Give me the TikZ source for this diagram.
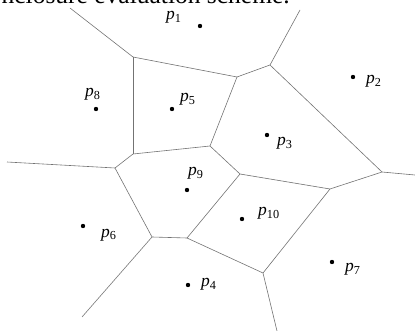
\documentclass[tikz,border=0pt]{standalone}
\usepackage{fontspec}
\setmainfont{Liberation Serif}
\usetikzlibrary{positioning}

\tikzset{
  cell/.style={draw=black!55, line width=0.6pt},
  site/.style={circle, fill=black, inner sep=0pt, minimum size=4.4pt},
  sitelabel/.style={anchor=base west, inner sep=0pt, font=\fontsize{17.5}{17.5}\selectfont}
}

\newcommand{\pl}[1]{\textit{p}\textsubscript{#1}}

\begin{document}
\begin{tikzpicture}[x=1pt, y=-1pt]
    \useasboundingbox (0,0) rectangle (415,331);

    % caption line, cut by the page edge
    \node[anchor=base east, inner sep=0pt, font=\fontsize{25.5}{25.5}\selectfont] (cap) at (290,3.5) {nclosure evaluation scheme.};

    % Voronoi vertices
    \coordinate (V1) at (133,57);
    \coordinate (V2) at (237,77);
    \coordinate (V3) at (270,65);
    \coordinate (V4) at (133,154);
    \coordinate (V5) at (210,146);
    \coordinate (V6) at (115,168);
    \coordinate (V7) at (240,174);
    \coordinate (V8) at (330,189);
    \coordinate (V9) at (382,172);
    \coordinate (V10) at (152,237);
    \coordinate (V11) at (187,238);
    \coordinate (V12) at (263,273);

    % open ends
    \coordinate (E1) at (70,8);
    \coordinate (E2) at (300,10);
    \coordinate (E3) at (7,162);
    \coordinate (E4) at (415,175);
    \coordinate (E5) at (82,317);
    \coordinate (E6) at (277,331);

    \draw[cell] (E1) -- (V1);
    \draw[cell] (V1) -- (V2);
    \draw[cell] (V2) -- (V3);
    \draw[cell] (V3) -- (E2);
    \draw[cell] (V3) -- (V9);
    \draw[cell] (V1) -- (V4);
    \draw[cell] (V2) -- (V5);
    \draw[cell] (V4) -- (V5);
    \draw[cell] (V4) -- (V6);
    \draw[cell] (V6) -- (E3);
    \draw[cell] (V5) -- (V7);
    \draw[cell] (V7) -- (V8);
    \draw[cell] (V8) -- (V9);
    \draw[cell] (V9) -- (E4);
    \draw[cell] (V6) -- (V10);
    \draw[cell] (V10) -- (V11);
    \draw[cell] (V11) -- (V7);
    \draw[cell] (V11) -- (V12);
    \draw[cell] (V12) -- (V8);
    \draw[cell] (V12) -- (E6);
    \draw[cell] (V10) -- (E5);

    % sites
    \node[site] (s1) at (200,26) {};
    \node[site] (s2) at (353,77) {};
    \node[site] (s3) at (267,135) {};
    \node[site] (s4) at (188,285) {};
    \node[site] (s5) at (172,109) {};
    \node[site] (s6) at (83,226) {};
    \node[site] (s7) at (332,262) {};
    \node[site] (s8) at (96,109) {};
    \node[site] (s9) at (187,190) {};
    \node[site] (s10) at (242,219) {};

    \node[sitelabel] (l1) at (166,20) {\pl{1}};
    \node[sitelabel] (l2) at (366,84) {\pl{2}};
    \node[sitelabel] (l3) at (277,146) {\pl{3}};
    \node[sitelabel] (l4) at (201,287) {\pl{4}};
    \node[sitelabel] (l5) at (180,102) {\pl{5}};
    \node[sitelabel] (l6) at (101,237) {\pl{6}};
    \node[sitelabel] (l7) at (345,272) {\pl{7}};
    \node[sitelabel] (l8) at (85,97) {\pl{8}};
    \node[sitelabel] (l9) at (188,176) {\pl{9}};
    \node[sitelabel] (l10) at (258,216) {\pl{10}};
\end{tikzpicture}
\end{document}
